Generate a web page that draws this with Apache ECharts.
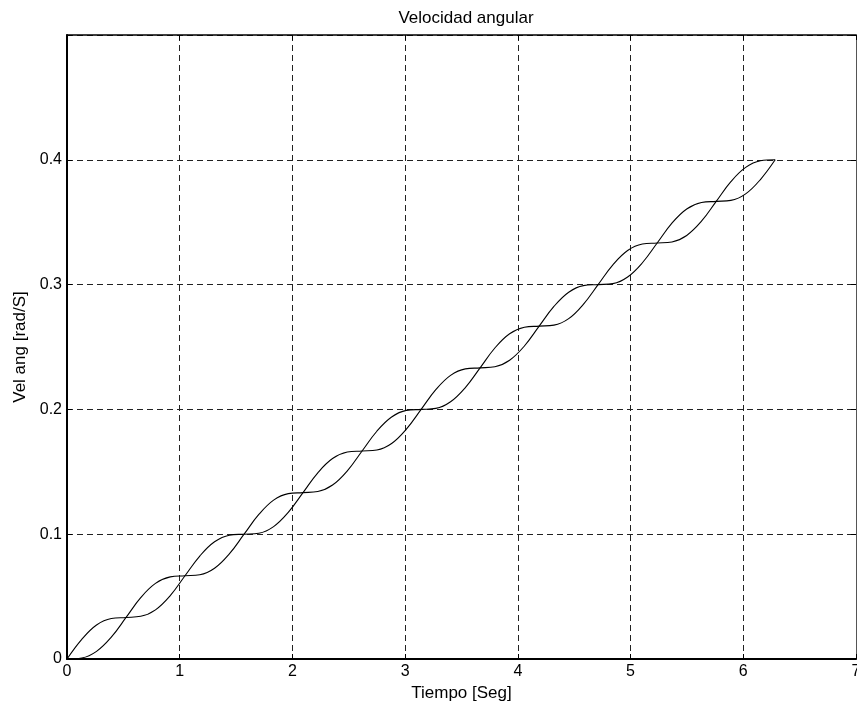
<!DOCTYPE html>
<html>
<head>
<meta charset="utf-8">
<title>Velocidad angular</title>
<script src="https://cdn.jsdelivr.net/npm/echarts@6/dist/echarts.min.js"></script>
<style>
  html, body { margin: 0; padding: 0; background: #fff; }
  #chart { width: 857px; height: 709px; }
</style>
</head>
<body>
<div id="chart"></div>
<script>
// Sample times [s]
const tiempo = [
  0, 0.131, 0.262, 0.393, 0.524, 0.654, 0.785, 0.916, 1.047, 1.178, 1.309, 1.440,
  1.571, 1.702, 1.833, 1.963, 2.094, 2.225, 2.356, 2.487, 2.618, 2.749, 2.880, 3.011,
  3.142, 3.272, 3.403, 3.534, 3.665, 3.796, 3.927, 4.058, 4.189, 4.320, 4.451, 4.581,
  4.712, 4.843, 4.974, 5.105, 5.236, 5.367, 5.498, 5.629, 5.760, 5.890, 6.021, 6.152,
  6.283
];

// First angular velocity trace [rad/s]
const velA = [
  0, 0.0158, 0.0273, 0.0325, 0.0333, 0.0342, 0.0394, 0.0508, 0.0667, 0.0825, 0.0939, 0.0992,
  0.1000, 0.1008, 0.1061, 0.1175, 0.1333, 0.1492, 0.1606, 0.1658, 0.1667, 0.1675, 0.1727, 0.1842,
  0.2000, 0.2158, 0.2273, 0.2325, 0.2333, 0.2342, 0.2394, 0.2508, 0.2667, 0.2825, 0.2939, 0.2992,
  0.3000, 0.3008, 0.3061, 0.3175, 0.3333, 0.3492, 0.3606, 0.3658, 0.3667, 0.3675, 0.3727, 0.3842,
  0.4000
];

// Second angular velocity trace [rad/s]
const velB = [
  0, 0.0008, 0.0061, 0.0175, 0.0333, 0.0492, 0.0606, 0.0658, 0.0667, 0.0675, 0.0727, 0.0842,
  0.1000, 0.1158, 0.1273, 0.1325, 0.1333, 0.1342, 0.1394, 0.1508, 0.1667, 0.1825, 0.1939, 0.1992,
  0.2000, 0.2008, 0.2061, 0.2175, 0.2333, 0.2492, 0.2606, 0.2658, 0.2667, 0.2675, 0.2727, 0.2842,
  0.3000, 0.3158, 0.3273, 0.3325, 0.3333, 0.3342, 0.3394, 0.3508, 0.3667, 0.3825, 0.3939, 0.3992,
  0.4000
];

const xTicks = [0, 1, 2, 3, 4, 5, 6, 7];
const yTicks = [0, 0.1, 0.2, 0.3, 0.4];

const FONT = '"Liberation Sans", Arial, Helvetica, sans-serif';
const pairs = (xs, ys) => xs.map((x, i) => [x, ys[i]]);

const chart = echarts.init(document.getElementById('chart'), null, { renderer: 'canvas' });

const gridDash = { color: '#222', width: 1, type: [6, 4] };

chart.setOption({
  animation: false,
  backgroundColor: '#fff',
  title: {
    text: 'Velocidad angular',
    left: 461,
    top: 5,
    textAlign: 'center',
    textStyle: { fontFamily: FONT, fontSize: 17, fontWeight: 'normal', color: '#000' }
  },
  grid: { left: 67, right: 1, top: 35, bottom: 50, containLabel: false, outerBoundsMode: 'none' },
  xAxis: [
    {
      type: 'value', min: 0, max: 7, interval: 1, position: 'bottom',
      name: 'Tiempo [Seg]', nameLocation: 'middle', nameGap: 22,
      nameTextStyle: { fontFamily: FONT, fontSize: 17, color: '#000' },
      axisLine: { show: true, onZero: false, lineStyle: { color: '#000', width: 2 } },
      axisTick: { show: true, inside: true, length: 5, lineStyle: { color: '#000' } },
      axisLabel: {
        margin: 5, fontFamily: FONT, fontSize: 16, color: '#000',
        formatter: v => (xTicks.includes(v) ? String(v) : '')
      },
      splitLine: { show: true, lineStyle: gridDash }
    },
    {
      type: 'value', min: 0, max: 7, interval: 1, position: 'top',
      axisLine: { show: true, onZero: false, lineStyle: { color: '#000', width: 1.5 } },
      axisTick: { show: true, inside: true, length: 5, lineStyle: { color: '#000' } },
      axisLabel: { show: false },
      splitLine: { show: false }
    }
  ],
  yAxis: [
    {
      type: 'value', min: 0, max: 0.5, interval: 0.1, position: 'left',
      name: 'Vel ang [rad/S]', nameLocation: 'middle', nameGap: 38,
      nameTextStyle: { fontFamily: FONT, fontSize: 17, color: '#000' },
      axisLine: { show: true, onZero: false, lineStyle: { color: '#000', width: 2 } },
      axisTick: { show: true, inside: true, length: 5, lineStyle: { color: '#000' } },
      axisLabel: {
        margin: 5, fontFamily: FONT, fontSize: 16, color: '#000',
        formatter: v => {
          const t = yTicks.find(y => Math.abs(y - v) < 1e-9);
          return t === undefined ? '' : String(t);
        }
      },
      splitLine: { show: true, lineStyle: gridDash }
    },
    {
      type: 'value', min: 0, max: 0.5, interval: 0.1, position: 'right',
      axisLine: { show: true, onZero: false, lineStyle: { color: '#555', width: 1 } },
      axisTick: { show: true, inside: true, length: 5, lineStyle: { color: '#000' } },
      axisLabel: { show: false },
      splitLine: { show: false }
    }
  ],
  series: [
    {
      type: 'line', data: pairs(tiempo, velA), smooth: 0.4, showSymbol: false,
      lineStyle: { color: '#000', width: 1.1 }, z: 5
    },
    {
      type: 'line', data: pairs(tiempo, velB), smooth: 0.4, showSymbol: false,
      lineStyle: { color: '#000', width: 1.1 }, z: 5
    }
  ]
});
</script>
</body>
</html>
